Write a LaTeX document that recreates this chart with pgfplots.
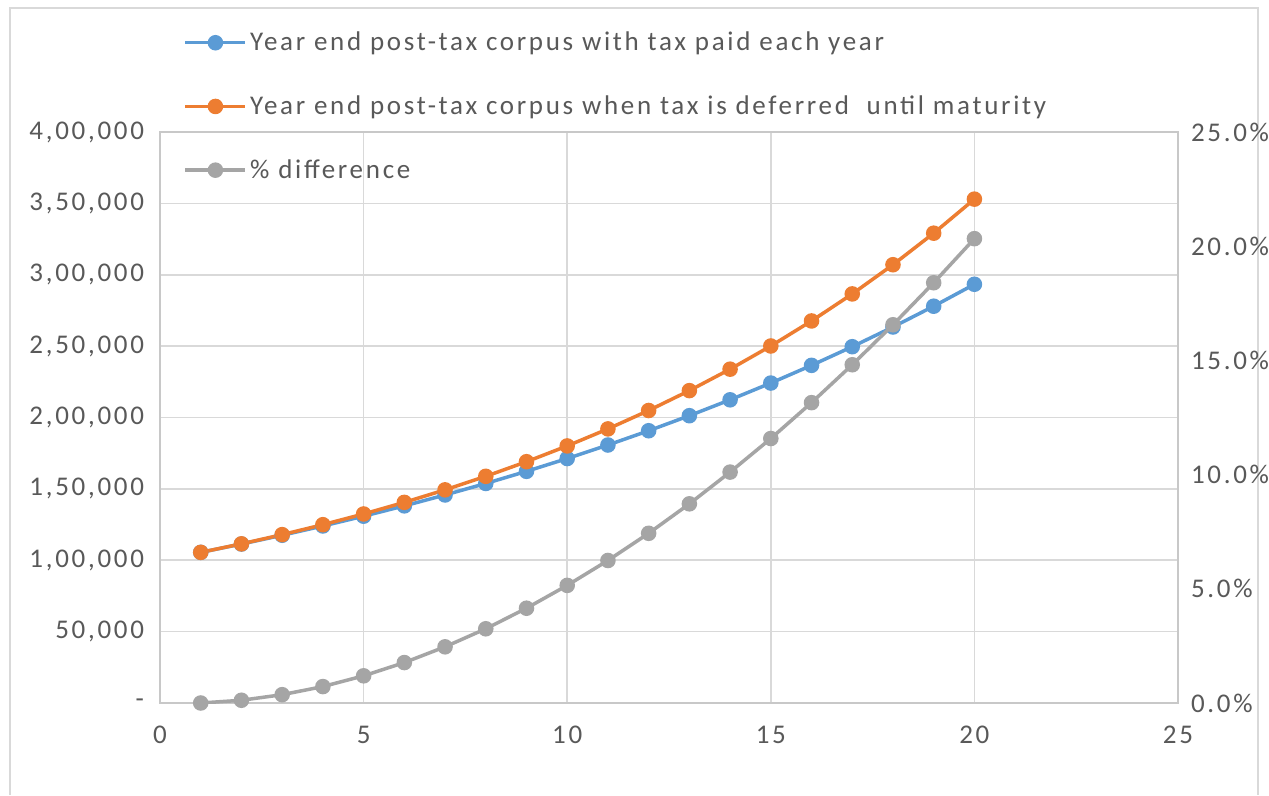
\documentclass[border=0pt]{standalone}
\usepackage{pgfplots}
\pgfplotsset{compat=1.18}
\usepackage{fontspec}
\setmainfont{Carlito}[LetterSpace=10]
\definecolor{cblue}{HTML}{5B9BD5}
\definecolor{corange}{HTML}{ED7D31}
\definecolor{cgray}{HTML}{A5A5A5}
\definecolor{cgrid}{HTML}{D9D9D9}
\definecolor{caxis}{HTML}{C8C8C8}
\definecolor{ctext}{HTML}{595959}
\pgfplotsset{
  lbl/.style={font=\fontsize{13.5bp}{16bp}\selectfont, text=ctext},
  ser/.style={line width=1.75bp, mark=*, mark size=3bp, mark options={solid}},
}
\begin{document}
\begin{tikzpicture}[x=1bp,y=1bp]
\fill[white] (0,0) rectangle (634.5,397.5);
\draw[cgrid, line width=1bp] (5,0) -- (5,393.5) -- (629,393.5) -- (629,0);
\begin{axis}[
  at={(80bp,46bp)}, anchor=south west,
  scale only axis, width=509bp, height=285.5bp,
  xmin=0, xmax=25, ymin=0, ymax=400000,
  scaled y ticks=false,
  xtick={0,5,10,15,20,25},
  xticklabels={0,5,10,15,20,25},
  ytick={0,50000,100000,150000,200000,250000,300000,350000,400000},
  yticklabels={{-},{50,000},{1,00,000},{1,50,000},{2,00,000},{2,50,000},{3,00,000},{3,50,000},{4,00,000}},
  grid=major, major grid style={cgrid, line width=0.8bp},
  axis line style={caxis, line width=0.8bp},
  tick style={draw=none},
  ticklabel style={lbl},
  xticklabel style={yshift=-8bp},
  yticklabel style={xshift=-4.5bp},
]
\addplot[ser, cblue] coordinates {
(1,105528)(2,111362)(3,117518)(4,124014)(5,130870)(6,138104)(7,145738)(8,153795)(9,162296)(10,171268)
(11,180736)(12,190727)(13,201270)(14,212397)(15,224138)(16,236528)(17,249604)(18,263402)(19,277963)(20,293328)};
\addplot[ser, corange] coordinates {
(1,105528)(2,111498)(3,117946)(4,124910)(5,132431)(6,140553)(7,149325)(8,158799)(9,169031)(10,180082)
(11,192016)(12,204906)(13,218826)(14,233860)(15,250097)(16,267633)(17,286571)(18,307025)(19,329115)(20,352972)};
\end{axis}
\begin{axis}[
  at={(80bp,46bp)}, anchor=south west,
  scale only axis, width=509bp, height=285.5bp,
  xmin=0, xmax=25, ymin=0, ymax=25,
  axis x line=none,
  axis y line*=right,
  ytick={0,5,10,15,20,25},
  yticklabels={0.0\%,5.0\%,10.0\%,15.0\%,20.0\%,25.0\%},
  axis line style={caxis, line width=0.8bp},
  tick style={draw=none},
  ticklabel style={lbl},
  yticklabel style={xshift=3bp},
  legend style={draw=none, fill=none, at={(0.017,1.19)}, anchor=north west,
    row sep=17bp, lbl, legend cell align=left, nodes={inner xsep=1.5bp}},
  legend cell align=left,
  legend image code/.code={\draw[mark repeat=2, mark phase=2] plot coordinates {(0bp,0bp)(15bp,0bp)(30bp,0bp)};},
]
\addlegendimage{ser, cblue}
\addlegendentry{Year end post-tax corpus with tax paid each year}
\addlegendimage{ser, corange}
\addlegendentry{Year end post-tax corpus when tax is deferred\ \ until maturity}
\addplot[ser, cgray] coordinates {
(1,0)(2,0.12)(3,0.364)(4,0.72)(5,1.19)(6,1.77)(7,2.46)(8,3.25)(9,4.15)(10,5.15)
(11,6.24)(12,7.43)(13,8.72)(14,10.11)(15,11.58)(16,13.15)(17,14.81)(18,16.56)(19,18.40)(20,20.33)};
\addlegendentry{\% difference}
\end{axis}
\pgfresetboundingbox
\path[use as bounding box] (0,0) rectangle (634.5,397.5);
\end{tikzpicture}
\end{document}
